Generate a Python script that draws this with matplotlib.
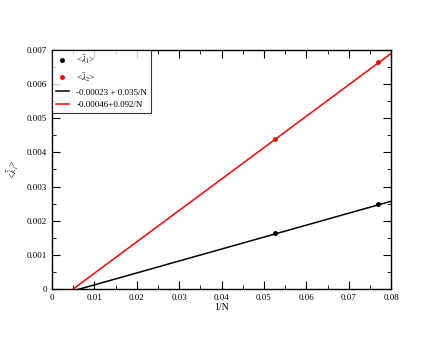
import matplotlib
matplotlib.use("Agg")
import matplotlib.pyplot as plt
import numpy as np
from matplotlib.ticker import MultipleLocator, FuncFormatter

plt.rcParams['font.family'] = ['Liberation Serif', 'DejaVu Serif']
plt.rcParams['mathtext.fontset'] = 'stix'

x_pts = [0.0526, 0.0769]
lam1 = [0.00163, 0.00250]
lam2 = [0.00438, 0.00664]
fit1 = [-0.00023, 0.035]
fit2 = [-0.00046, 0.092]
labels = [r'<$\bar{\lambda}_1$>', r'<$\bar{\lambda}_2$>',
          '-0.00023 + 0.035/N', '-0.00046+0.092/N']

fig = plt.figure(figsize=(4.4, 3.4), dpi=100)
ax = fig.add_axes([0.118, 0.150, 0.771, 0.703])

xl = np.linspace(0, 0.08, 200)
h1, = ax.plot(x_pts, lam1, 'o', color='black', ms=2.5, lw=0)
h2, = ax.plot(x_pts, lam2, 'o', color='red', ms=2.5, lw=0)
h3, = ax.plot(xl, fit1[0] + fit1[1]*xl, color='black', lw=1.1)
h4, = ax.plot(xl, fit2[0] + fit2[1]*xl, color='red', lw=1.1)

ax.set_xlim(0, 0.08)
ax.set_ylim(0, 0.007)
ax.xaxis.set_major_locator(MultipleLocator(0.01))
ax.xaxis.set_minor_locator(MultipleLocator(0.005))
ax.yaxis.set_major_locator(MultipleLocator(0.001))
ax.yaxis.set_minor_locator(MultipleLocator(0.0005))
fmt = FuncFormatter(lambda v, p: '0' if abs(v) < 1e-12 else f'{round(v, 4):g}')
ax.xaxis.set_major_formatter(fmt)
ax.yaxis.set_major_formatter(fmt)
ax.tick_params(which='both', direction='in', top=True, right=True, labelsize=6.5)
ax.tick_params(which='major', length=6)
ax.tick_params(which='minor', length=3)
for s in ax.spines.values():
    s.set_linewidth(1.0)

ax.set_xlabel('1/N', fontsize=7, labelpad=1)
ax.set_ylabel(r'<$\bar{\lambda}_i$>', fontsize=7, labelpad=4)

leg = ax.legend([h1, h2, h3, h4], labels, loc='upper left', fontsize=6.5,
                frameon=True, fancybox=False, borderaxespad=0,
                handlelength=1.5, handletextpad=0.8, borderpad=0.4, labelspacing=0.5)
leg.get_frame().set_edgecolor('black')
leg.get_frame().set_linewidth(0.8)

fig.savefig('out.png', dpi=100)
